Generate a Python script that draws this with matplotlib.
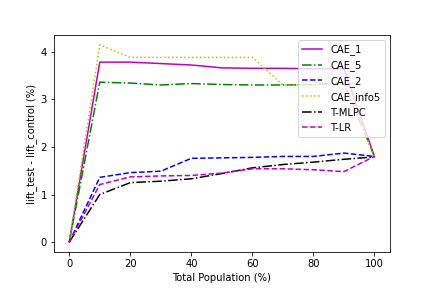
import matplotlib
matplotlib.use("Agg")
import matplotlib.pyplot as plt

x = [0, 10, 20, 30, 40, 50, 60, 70, 80, 90, 100]
cae_1 = [0, 3.78, 3.78, 3.75, 3.72, 3.66, 3.65, 3.65, 3.64, 3.64, 1.8]
cae_5 = [0, 3.36, 3.34, 3.30, 3.33, 3.31, 3.30, 3.30, 3.31, 3.35, 1.8]
cae_2 = [0, 1.36, 1.46, 1.49, 1.76, 1.77, 1.78, 1.80, 1.80, 1.87, 1.80]
cae_info5 = [0, 4.14, 3.88, 3.88, 3.88, 3.88, 3.88, 3.30, 3.30, 3.30, 1.8]
t_mlpc = [0, 1.00, 1.25, 1.28, 1.33, 1.44, 1.56, 1.63, 1.68, 1.74, 1.79]
t_lr = [0, 1.21, 1.37, 1.39, 1.40, 1.45, 1.54, 1.54, 1.52, 1.48, 1.80]

fig, ax = plt.subplots(figsize=(6, 4), dpi=72)
fig.subplots_adjust(left=0.125, right=0.902, top=0.878, bottom=0.125)
ax.plot(x, cae_1, 'm-', label='CAE_1')
ax.plot(x, cae_5, 'g-.', label='CAE_5')
ax.plot(x, cae_2, 'b--', label='CAE_2')
ax.plot(x, cae_info5, 'y:', label='CAE_info5')
ax.plot(x, t_mlpc, 'k-.', label='T-MLPC')
ax.plot(x, t_lr, 'm--', label='T-LR')
ax.set_xlabel('Total Population (%)')
ax.set_ylabel('lift_test - lift_control (%)')
ax.legend(loc='upper right')
fig.savefig('out.png', dpi=72)
